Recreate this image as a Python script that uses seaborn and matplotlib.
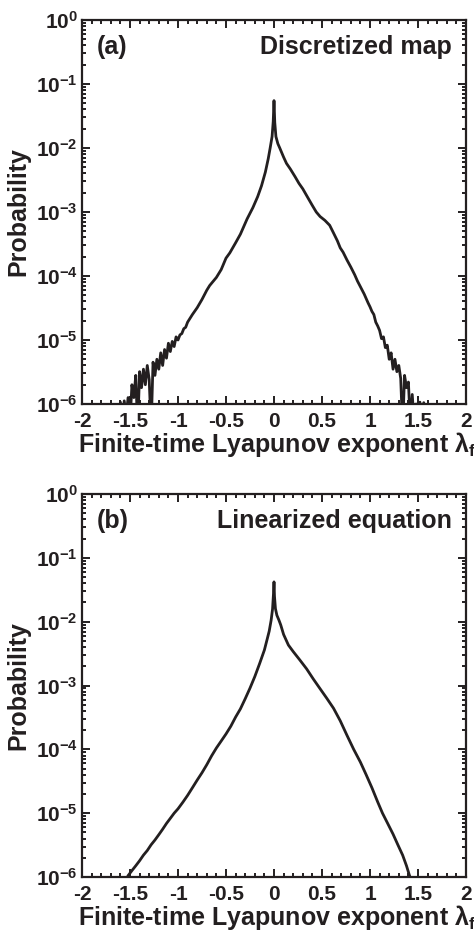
import numpy as np
import pandas as pd
import matplotlib
matplotlib.use("Agg")
import matplotlib.pyplot as plt
import matplotlib.ticker as mticker
import seaborn as sns

# ---------------- data ----------------
# Panel (a): Discretized map
x_a = [-1.62, -1.60, -1.58, -1.56, -1.54, -1.52, -1.50, -1.48, -1.46, -1.44,
       -1.42, -1.40, -1.38, -1.36, -1.34, -1.32, -1.30, -1.28, -1.26, -1.24,
       -1.22, -1.20, -1.18, -1.16, -1.14, -1.12, -1.10, -1.08, -1.06, -1.04,
       -1.02, -1.00, -0.98, -0.96, -0.94, -0.92, -0.90, -0.85, -0.80, -0.75,
       -0.70, -0.67, -0.60, -0.55, -0.50, -0.46, -0.40, -0.35, -0.28, -0.22,
       -0.17, -0.13, -0.09, -0.06, -0.04, -0.02, -0.008, 0.0, 0.008, 0.02,
       0.04, 0.06, 0.10, 0.13, 0.17, 0.22, 0.26, 0.30, 0.35, 0.40,
       0.44, 0.48, 0.53, 0.58, 0.62, 0.66, 0.69, 0.72, 0.76, 0.80,
       0.84, 0.87, 0.90, 0.94, 0.98, 1.00, 1.02, 1.04, 1.06, 1.08,
       1.10, 1.12, 1.14, 1.16, 1.18, 1.20, 1.22, 1.24, 1.26, 1.28,
       1.30, 1.32, 1.34, 1.36, 1.38, 1.40, 1.42, 1.44, 1.46, 1.48,
       1.50, 1.52, 1.54, 1.56, 1.58]
p_a = [5.0e-7, 1.07e-6, 5.0e-7, 1.12e-6, 6.3e-7, 1.26e-6, 5.0e-7, 2.0e-6, 1.26e-6, 2.8e-6,
       4.0e-7, 3.2e-6, 1.8e-6, 3.5e-6, 2.0e-6, 4.0e-6, 2.4e-6, 4.0e-7, 4.5e-6, 2.8e-6,
       5.0e-6, 3.5e-6, 6.3e-6, 4.0e-6, 7.1e-6, 5.2e-6, 8.9e-6, 6.6e-6, 9.5e-6, 7.9e-6,
       1.12e-5, 1.0e-5, 1.2e-5, 1.26e-5, 1.5e-5, 1.58e-5, 1.9e-5, 2.5e-5, 3.2e-5, 4.3e-5,
       6.0e-5, 7.1e-5, 9.5e-5, 1.26e-4, 1.9e-4, 2.3e-4, 3.3e-4, 4.5e-4, 7.8e-4, 1.17e-3,
       1.74e-3, 2.57e-3, 4.2e-3, 6.8e-3, 1.0e-2, 1.51e-2, 2.6e-2, 5.5e-2, 2.5e-2, 1.51e-2,
       1.17e-2, 1.0e-2, 7.2e-3, 5.75e-3, 4.7e-3, 3.55e-3, 2.8e-3, 2.3e-3, 1.7e-3, 1.26e-3,
       1.0e-3, 8.5e-4, 7.4e-4, 6.2e-4, 4.7e-4, 3.55e-4, 2.75e-4, 2.35e-4, 1.78e-4, 1.38e-4,
       1.05e-4, 8.3e-5, 6.8e-5, 5.2e-5, 3.8e-5, 3.3e-5, 2.8e-5, 2.5e-5, 1.9e-5, 1.66e-5,
       1.41e-5, 1.05e-5, 1.12e-5, 7.6e-6, 8.3e-6, 5.0e-6, 6.3e-6, 3.5e-6, 5.0e-6, 3.2e-6,
       4.0e-6, 2.5e-6, 4.0e-7, 2.8e-6, 1.8e-6, 2.2e-6, 5.0e-7, 1.41e-6, 5.0e-7, 1.0e-6,
       5.0e-7, 1.07e-6, 5.0e-7, 1.05e-6, 5.0e-7]

# Panel (b): Linearized equation
x_b = [-1.58, -1.54, -1.52, -1.48, -1.44, -1.40, -1.36, -1.32, -1.28, -1.24,
       -1.20, -1.16, -1.12, -1.08, -1.04, -1.00, -0.95, -0.90, -0.85, -0.80,
       -0.75, -0.70, -0.65, -0.60, -0.55, -0.50, -0.45, -0.40, -0.35, -0.30,
       -0.25, -0.20, -0.15, -0.10, -0.07, -0.05, -0.03, -0.015, -0.005, 0.0,
       0.005, 0.015, 0.03, 0.05, 0.07, 0.10, 0.15, 0.20, 0.27, 0.34,
       0.41, 0.48, 0.55, 0.62, 0.69, 0.76, 0.83, 0.90, 0.96, 1.02,
       1.08, 1.13, 1.18, 1.24, 1.29, 1.34, 1.38, 1.41, 1.44, 1.46]
p_b = [5.0e-7, 9.0e-7, 1.05e-6, 1.26e-6, 1.5e-6, 1.8e-6, 2.2e-6, 2.6e-6, 3.2e-6, 3.8e-6,
       4.6e-6, 5.6e-6, 6.9e-6, 8.3e-6, 1.0e-5, 1.17e-5, 1.48e-5, 1.9e-5, 2.5e-5, 3.3e-5,
       4.3e-5, 5.75e-5, 7.9e-5, 1.05e-4, 1.35e-4, 1.74e-4, 2.3e-4, 3.2e-4, 4.3e-4, 6.2e-4,
       9.1e-4, 1.38e-3, 2.2e-3, 3.6e-3, 5.4e-3, 7.1e-3, 1.05e-2, 1.58e-2, 2.8e-2, 4.2e-2,
       2.5e-2, 1.6e-2, 1.26e-2, 1.07e-2, 8.9e-3, 6.3e-3, 4.3e-3, 3.4e-3, 2.5e-3, 1.82e-3,
       1.26e-3, 8.9e-4, 6.3e-4, 4.4e-4, 2.8e-4, 1.66e-4, 1.0e-4, 6.3e-5, 4.0e-5, 2.5e-5,
       1.5e-5, 1.0e-5, 7.1e-6, 4.7e-6, 3.2e-6, 2.2e-6, 1.5e-6, 1.07e-6, 8.0e-7, 5.0e-7]

panel_tags = ["(a)", "(b)"]
panel_titles = ["Discretized map", "Linearized equation"]
x_ticks = [-2, -1.5, -1, -0.5, 0, 0.5, 1, 1.5, 2]
x_ticklabels = ["-2", "-1.5", "-1", "-0.5", "0", "0.5", "1", "1.5", "2"]
y_ticks = [1e-6, 1e-5, 1e-4, 1e-3, 1e-2, 1e-1, 1e0]

# ---------------- style ----------------
sns.set_theme(style="ticks")
ink = "#231f20"
plt.rcParams["font.family"] = ["Liberation Sans", "DejaVu Sans"]
plt.rcParams["font.weight"] = "bold"
plt.rcParams["mathtext.fontset"] = "custom"
plt.rcParams["mathtext.rm"] = "Liberation Sans:bold"
plt.rcParams["mathtext.bf"] = "Liberation Sans:bold"
plt.rcParams["mathtext.it"] = "Liberation Sans:bold"
plt.rcParams["mathtext.sf"] = "Liberation Sans:bold"
plt.rcParams["text.color"] = ink

W, H = 474, 941
fig = plt.figure(figsize=(W / 100, H / 100), dpi=100)
fig.patch.set_facecolor("white")

# axes placement (pixels): left 82, right 466; top panel 20..404, bottom 494..877
axes_px = [(82, 20, 466, 404), (82, 494, 466, 877)]
datasets = [(x_a, p_a), (x_b, p_b)]

for i, ((l, t, r, b), (xs, ps)) in enumerate(zip(axes_px, datasets)):
    ax = fig.add_axes([l / W, 1 - b / H, (r - l) / W, (b - t) / H])
    df = pd.DataFrame({"x": xs, "p": ps})
    sns.lineplot(data=df, x="x", y="p", ax=ax, color=ink, lw=2.0,
                 estimator=None, sort=False)
    ax.set_yscale("log")
    ax.set_xlim(-2, 2)
    ax.set_ylim(1e-6, 1)
    ax.set_xticks(x_ticks)
    ax.set_xticklabels(x_ticklabels)
    ax.xaxis.set_minor_locator(mticker.MultipleLocator(0.1))
    ax.set_yticks(y_ticks)
    ax.yaxis.set_major_formatter(
        mticker.FuncFormatter(lambda v, pos: r"$10^{%d}$" % int(round(np.log10(v)))))
    ax.yaxis.set_minor_locator(mticker.LogLocator(base=10, subs=np.arange(2, 10), numticks=20))
    ax.yaxis.set_minor_formatter(mticker.NullFormatter())
    ax.tick_params(which="both", direction="in", top=True, right=True,
                   color=ink, width=1.4)
    ax.tick_params(which="major", length=6)
    ax.tick_params(which="minor", length=3)
    ax.tick_params(axis="x", which="major", labelsize=15, pad=6, labelcolor=ink)
    ax.tick_params(axis="y", which="major", labelsize=15, pad=3, labelcolor=ink)
    for lab in ax.get_xticklabels() + ax.get_yticklabels():
        lab.set_fontweight("bold")
    for sp in ax.spines.values():
        sp.set_visible(True)
        sp.set_linewidth(1.6)
        sp.set_color(ink)
    ax.set_ylabel("Probability", fontsize=18, fontweight="bold", color=ink)
    ax.yaxis.set_label_coords(-0.135, 0.5)
    ax.set_xlabel("Finite-time Lyapunov exponent λ$_{f}$", fontsize=18,
                  fontweight="bold", color=ink)
    ax.xaxis.set_label_coords(0.508, -0.068)
    ax.text(0.039, 0.93, panel_tags[i], transform=ax.transAxes, fontsize=18,
            fontweight="bold", ha="left", va="center", color=ink)
    ax.text(0.964, 0.93, panel_titles[i], transform=ax.transAxes, fontsize=18,
            fontweight="bold", ha="right", va="center", color=ink)
    ax.grid(False)
    ax.set_facecolor("white")

fig.savefig("out.png", dpi=100, facecolor="white")
